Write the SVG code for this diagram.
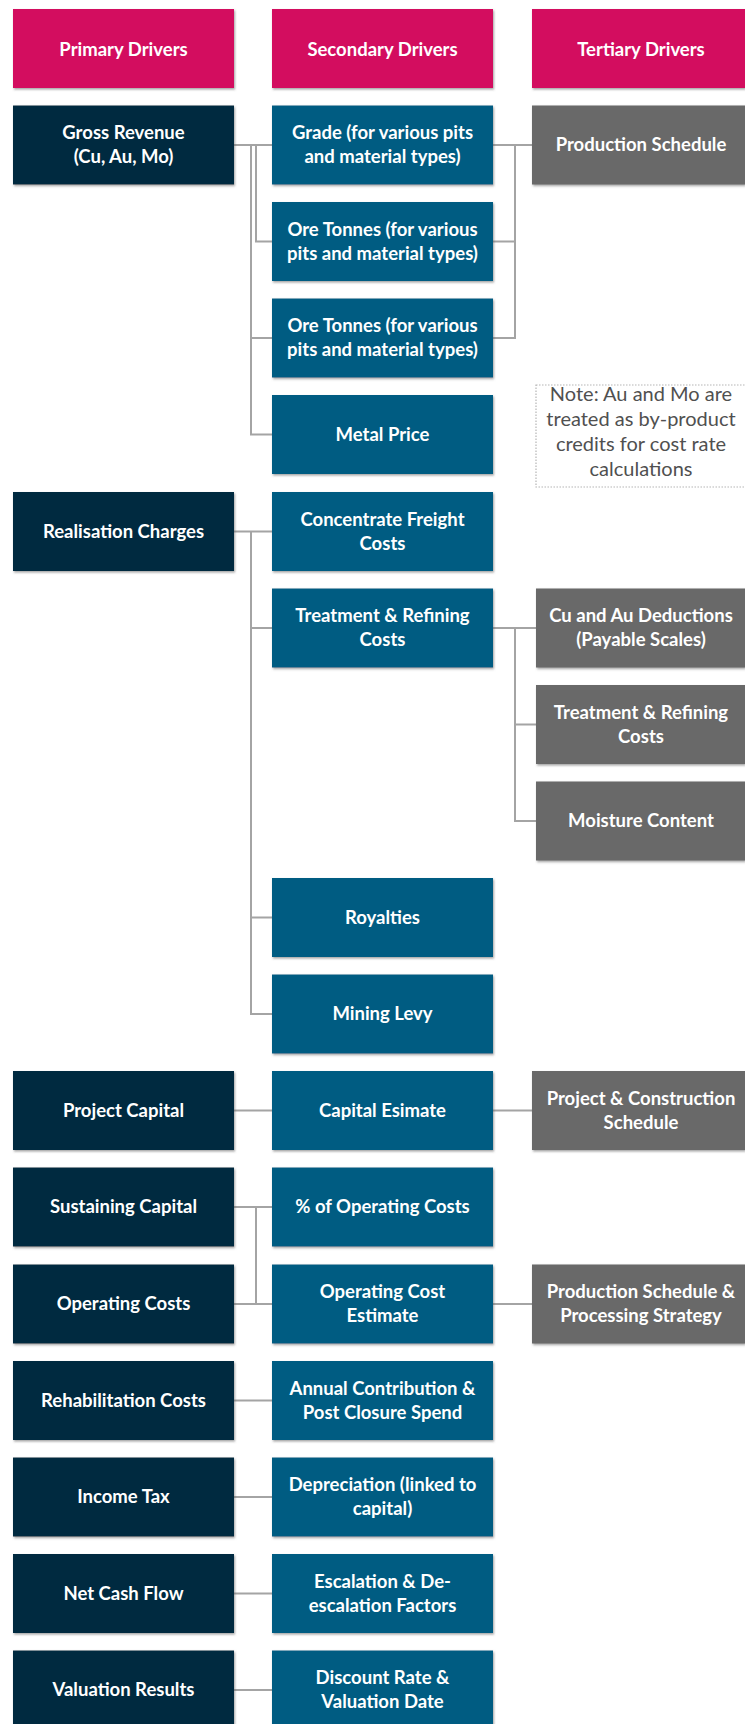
<svg xmlns="http://www.w3.org/2000/svg" width="745" height="1724" viewBox="0 0 745 1724">
<defs>
<filter id="sh" x="-5%" y="-5%" width="112%" height="120%">
<feDropShadow dx="1" dy="1.5" stdDeviation="0.8" flood-color="#555" flood-opacity="0.55"/>
</filter>
<style>
.hd{fill:#D30B5E}
.p1{fill:#062C3F}
.p2{fill:#045C82}
.p3{fill:#696969}
rect.n{filter:url(#sh)}
text.t{font-family:Lato,"Open Sans","Liberation Sans",sans-serif;font-weight:700;font-size:18.5px;fill:#fff;text-anchor:middle}
text.note{font-family:Lato,"Liberation Sans",sans-serif;font-size:20px;fill:#505050;text-anchor:middle}
.ln{fill:none;stroke:#a4a4a4;stroke-width:2}
</style>
</defs>
<rect width="745" height="1724" fill="#fff"/>

<g id="connectors">
<path class="ln" d="M234,145H272"/>
<path class="ln" d="M256,145V241.5H272"/>
<path class="ln" d="M251,145V434.5H272M251,338H272"/>
<path class="ln" d="M493,145H532"/>
<path class="ln" d="M515,145V338H493M515,241.5H493"/>
<path class="ln" d="M234,531.5H272"/>
<path class="ln" d="M251,531.5V1014H272M251,628H272M251,917.5H272"/>
<path class="ln" d="M493,628H536M515,628V821H536M515,724.5H536"/>
<path class="ln" d="M234,1110.5H272M493,1110.5H532"/>
<path class="ln" d="M234,1207H272M234,1304H272M256,1207V1304M493,1304H532"/>
<path class="ln" d="M234,1400.5H272M234,1497H272M234,1593.5H272M234,1690H272"/>
</g>

<g id="h1"><rect class="n hd" x="13" y="9" width="221" height="79"/><text class="t" x="123.5" y="56">Primary Drivers</text></g>
<g id="h2"><rect class="n hd" x="272" y="9" width="221" height="79"/><text class="t" x="382.5" y="56">Secondary Drivers</text></g>
<g id="h3"><rect class="n hd" x="532" y="9" width="213" height="79"/><text class="t" x="641" y="56">Tertiary Drivers</text></g>

<g id="gross"><rect class="n p1" x="13" y="105.5" width="221" height="79"/><text class="t" x="123.5" y="139">Gross Revenue<tspan x="123.5" dy="24">(Cu, Au, Mo)</tspan></text></g>
<g id="grade"><rect class="n p2" x="272" y="105.5" width="221" height="79"/><text class="t" x="382.5" y="139">Grade (for various pits<tspan x="382.5" dy="24">and material types)</tspan></text></g>
<g id="prodsched"><rect class="n p3" x="532" y="105.5" width="213" height="79"/><text class="t" x="641" y="151">Production Schedule</text></g>

<g id="ore1"><rect class="n p2" x="272" y="202" width="221" height="79"/><text class="t" x="382.5" y="235.5">Ore Tonnes (for various<tspan x="382.5" dy="24">pits and material types)</tspan></text></g>
<g id="ore2"><rect class="n p2" x="272" y="298.5" width="221" height="79"/><text class="t" x="382.5" y="332">Ore Tonnes (for various<tspan x="382.5" dy="24">pits and material types)</tspan></text></g>
<g id="metal"><rect class="n p2" x="272" y="395" width="221" height="79"/><text class="t" x="382.5" y="440.5">Metal Price</text></g>

<g id="note"><rect x="536" y="385" width="215" height="102" fill="#fff" stroke="#b5b5b5" stroke-width="1.2" stroke-dasharray="1.5 1.5"/><text class="note" x="641" y="401">Note: Au and Mo are<tspan x="641" dy="25">treated as by-product</tspan><tspan x="641" dy="25">credits for cost rate</tspan><tspan x="641" dy="25">calculations</tspan></text></g>

<g id="realisation"><rect class="n p1" x="13" y="492" width="221" height="79"/><text class="t" x="123.5" y="537.5">Realisation Charges</text></g>
<g id="freight"><rect class="n p2" x="272" y="492" width="221" height="79"/><text class="t" x="382.5" y="525.5">Concentrate Freight<tspan x="382.5" dy="24">Costs</tspan></text></g>

<g id="trc"><rect class="n p2" x="272" y="588.5" width="221" height="79"/><text class="t" x="382.5" y="622">Treatment &amp; Refining<tspan x="382.5" dy="24">Costs</tspan></text></g>
<g id="deductions"><rect class="n p3" x="536" y="588.5" width="209" height="79"/><text class="t" x="641" y="622">Cu and Au Deductions<tspan x="641" dy="24">(Payable Scales)</tspan></text></g>
<g id="trc3"><rect class="n p3" x="536" y="685" width="209" height="79"/><text class="t" x="641" y="718.5">Treatment &amp; Refining<tspan x="641" dy="24">Costs</tspan></text></g>
<g id="moisture"><rect class="n p3" x="536" y="781.5" width="209" height="79"/><text class="t" x="641" y="827">Moisture Content</text></g>

<g id="royalties"><rect class="n p2" x="272" y="878" width="221" height="79"/><text class="t" x="382.5" y="923.5">Royalties</text></g>
<g id="levy"><rect class="n p2" x="272" y="974.5" width="221" height="79"/><text class="t" x="382.5" y="1020">Mining Levy</text></g>

<g id="projcap"><rect class="n p1" x="13" y="1071" width="221" height="79"/><text class="t" x="123.5" y="1116.5">Project Capital</text></g>
<g id="capest"><rect class="n p2" x="272" y="1071" width="221" height="79"/><text class="t" x="382.5" y="1116.5">Capital Esimate</text></g>
<g id="projcons"><rect class="n p3" x="532" y="1071" width="213" height="79"/><text class="t" x="641" y="1104.5">Project &amp; Construction<tspan x="641" dy="24">Schedule</tspan></text></g>

<g id="sustain"><rect class="n p1" x="13" y="1167.5" width="221" height="79"/><text class="t" x="123.5" y="1213">Sustaining Capital</text></g>
<g id="pctop"><rect class="n p2" x="272" y="1167.5" width="221" height="79"/><text class="t" x="382.5" y="1213">% of Operating Costs</text></g>

<g id="opcosts"><rect class="n p1" x="13" y="1264.5" width="221" height="79"/><text class="t" x="123.5" y="1310">Operating Costs</text></g>
<g id="opest"><rect class="n p2" x="272" y="1264.5" width="221" height="79"/><text class="t" x="382.5" y="1298">Operating Cost<tspan x="382.5" dy="24">Estimate</tspan></text></g>
<g id="prodproc"><rect class="n p3" x="532" y="1264.5" width="213" height="79"/><text class="t" x="641" y="1298">Production Schedule &amp;<tspan x="641" dy="24">Processing Strategy</tspan></text></g>

<g id="rehab"><rect class="n p1" x="13" y="1361" width="221" height="79"/><text class="t" x="123.5" y="1406.5">Rehabilitation Costs</text></g>
<g id="annual"><rect class="n p2" x="272" y="1361" width="221" height="79"/><text class="t" x="382.5" y="1394.5">Annual Contribution &amp;<tspan x="382.5" dy="24">Post Closure Spend</tspan></text></g>

<g id="tax"><rect class="n p1" x="13" y="1457.5" width="221" height="79"/><text class="t" x="123.5" y="1503">Income Tax</text></g>
<g id="depr"><rect class="n p2" x="272" y="1457.5" width="221" height="79"/><text class="t" x="382.5" y="1491">Depreciation (linked to<tspan x="382.5" dy="24">capital)</tspan></text></g>

<g id="ncf"><rect class="n p1" x="13" y="1554" width="221" height="79"/><text class="t" x="123.5" y="1599.5">Net Cash Flow</text></g>
<g id="escal"><rect class="n p2" x="272" y="1554" width="221" height="79"/><text class="t" x="382.5" y="1587.5">Escalation &amp; De-<tspan x="382.5" dy="24">escalation Factors</tspan></text></g>

<g id="valuation"><rect class="n p1" x="13" y="1650.5" width="221" height="79"/><text class="t" x="123.5" y="1696">Valuation Results</text></g>
<g id="discount"><rect class="n p2" x="272" y="1650.5" width="221" height="79"/><text class="t" x="382.5" y="1684">Discount Rate &amp;<tspan x="382.5" dy="24">Valuation Date</tspan></text></g>
</svg>
